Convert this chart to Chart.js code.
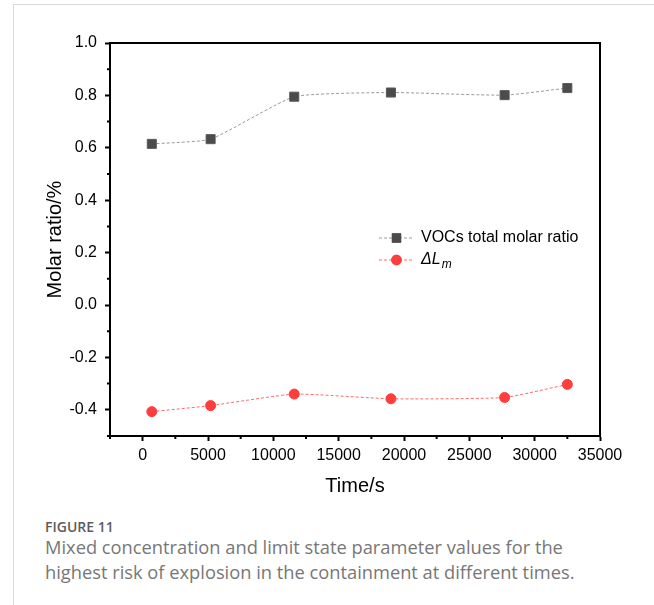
<!DOCTYPE html>
<html>
<head>
<meta charset="utf-8">
<script src="https://cdn.jsdelivr.net/npm/chart.js@4"></script>
<style>
  body { margin: 0; background: #fff; }
  #page { position: relative; width: 654px; height: 605px; overflow: hidden; background: #fff; }
  #frame { position: absolute; left: 13px; top: 4px; width: 700px; height: 700px;
           border-left: 1px solid #d9d9d9; border-top: 1px solid #d9d9d9; }
  #chartBox { position: absolute; left: 0; top: 0; width: 654px; height: 500px; }
  .fig { position: absolute; left: 45px; font-family: "Open Sans", sans-serif; white-space: nowrap; }
  #figNo { top: 517px; font-size: 14px; font-weight: 600; color: #5c5c5c; }
  #figText { top: 534px; font-size: 18.3px; line-height: 25px; color: #777; }
</style>
</head>
<body>
<div id="page">
  <div id="frame"></div>
  <div id="chartBox"><canvas id="myChart" width="654" height="500"></canvas></div>
  <div class="fig" id="figNo">FIGURE 11</div>
  <div class="fig" id="figText">Mixed concentration and limit state parameter values for the<br>highest risk of explosion in the containment at different times.</div>
</div>
<script>
// data
var times = [700, 5200, 11600, 19000, 27700, 32500];
var vocsRatio = [0.615, 0.633, 0.795, 0.811, 0.801, 0.828];
var deltaLm = [-0.407, -0.384, -0.340, -0.358, -0.353, -0.303];

var xTicks = [0, 5000, 10000, 15000, 20000, 25000, 30000, 35000];
var xMinor = [-2500, 2500, 7500, 12500, 17500, 22500, 27500, 32500];
var yTicks = [-0.4, -0.2, 0.0, 0.2, 0.4, 0.6, 0.8, 1.0];
var yMinor = [-0.5, -0.3, -0.1, 0.1, 0.3, 0.5, 0.7, 0.9];

var fontFam = '"Liberation Sans", Arial, sans-serif';

// box round the plot + minor ticks
var framePlugin = {
    id: 'frame',
    afterDraw: function(chart) {
        var ctx = chart.ctx, a = chart.chartArea;
        var xs = chart.scales.x, ys = chart.scales.y;
        ctx.save();
        ctx.strokeStyle = '#000';
        ctx.lineWidth = 2;
        ctx.beginPath();
        ctx.moveTo(a.left, a.top);
        ctx.lineTo(a.right, a.top);
        ctx.lineTo(a.right, a.bottom);
        ctx.stroke();
        ctx.beginPath();
        xMinor.forEach(function(v) {
            var px = xs.getPixelForValue(v);
            ctx.moveTo(px, a.bottom);
            ctx.lineTo(px, a.bottom + 3);
        });
        yMinor.forEach(function(v) {
            var py = ys.getPixelForValue(v);
            ctx.moveTo(a.left, py);
            ctx.lineTo(a.left - 3, py);
        });
        ctx.stroke();
        ctx.restore();
    }
};

// legend in Origin style: dashed line with the marker in the middle
var legendPlugin = {
    id: 'originLegend',
    afterDraw: function(chart) {
        var ctx = chart.ctx;
        var x0 = 379, x1 = 414, tx = 421;
        var rows = [238, 260];
        ctx.save();
        chart.data.datasets.forEach(function(ds, i) {
            var y = rows[i];
            ctx.strokeStyle = ds.borderColor;
            ctx.lineWidth = 1;
            ctx.setLineDash([3, 2]);
            ctx.beginPath();
            ctx.moveTo(x0, y);
            ctx.lineTo(x1, y);
            ctx.stroke();
            ctx.setLineDash([]);
            Chart.helpers.drawPoint(ctx, {
                pointStyle: ds.pointStyle, radius: ds.pointRadius, borderWidth: 1
            }, (x0 + x1) / 2, y);
            ctx.fillStyle = ds.pointBackgroundColor;
            ctx.strokeStyle = ds.pointBorderColor;
            ctx.fill();
        });
        ctx.fillStyle = '#000';
        ctx.textBaseline = 'middle';
        ctx.font = '16px ' + fontFam;
        ctx.fillText('VOCs total molar ratio', tx, rows[0]);
        ctx.font = 'italic 16px ' + fontFam;
        ctx.fillText('\u0394L', tx, rows[1]);
        var w = ctx.measureText('\u0394L').width;
        ctx.font = 'italic 12px ' + fontFam;
        ctx.fillText('m', tx + w + 1, rows[1] + 5);
        ctx.restore();
    }
};

document.addEventListener('DOMContentLoaded', function() {
    var ctx = document.getElementById('myChart').getContext('2d');
    var myChart = new Chart(ctx, {
        type: 'line',
        data: {
            datasets: [{
                label: 'VOCs total molar ratio',
                data: times.map(function(t, i) { return { x: t, y: vocsRatio[i] }; }),
                borderColor: 'rgba(120, 120, 120, 0.75)',
                borderWidth: 1,
                borderDash: [3, 2],
                pointStyle: 'rect',
                pointRadius: 6.4,
                pointBackgroundColor: '#4b4b4b',
                pointBorderColor: '#5a5a5a',
                pointBorderWidth: 1,
                tension: 0.15
            }, {
                label: '\u0394Lm',
                data: times.map(function(t, i) { return { x: t, y: deltaLm[i] }; }),
                borderColor: 'rgba(255, 70, 70, 0.8)',
                borderWidth: 1,
                borderDash: [3, 2],
                pointStyle: 'circle',
                pointRadius: 5,
                pointBackgroundColor: '#ff3d3d',
                pointBorderColor: '#ff3d3d',
                pointBorderWidth: 1,
                tension: 0.15
            }]
        },
        options: {
            responsive: false,
            animation: false,
            layout: { padding: { left: 0, top: 43, right: 54, bottom: 0 } },
            plugins: {
                legend: { display: false },
                tooltip: { enabled: false }
            },
            scales: {
                x: {
                    type: 'linear',
                    min: -2500,
                    max: 35000,
                    afterBuildTicks: function(scale) {
                        scale.ticks = xTicks.map(function(v) { return { value: v }; });
                    },
                    afterFit: function(scale) { scale.height = 64; },
                    grid: { display: true, drawOnChartArea: false, drawTicks: true,
                            tickLength: 5, tickWidth: 2, tickColor: '#000' },
                    border: { display: true, width: 2, color: '#000' },
                    ticks: { color: '#000', padding: 5, maxRotation: 0, autoSkip: false,
                             font: { family: fontFam, size: 16 },
                             callback: function(v) { return String(v); } },
                    title: { display: true, text: 'Time/s', color: '#000',
                             font: { family: fontFam, size: 20 },
                             padding: { top: 0, bottom: 2 } }
                },
                y: {
                    min: -0.5,
                    max: 1.0,
                    afterBuildTicks: function(scale) {
                        scale.ticks = yTicks.map(function(v) { return { value: v }; });
                    },
                    afterFit: function(scale) { scale.width = 110; },
                    grid: { display: true, drawOnChartArea: false, drawTicks: true,
                            tickLength: 5, tickWidth: 2, tickColor: '#000' },
                    border: { display: true, width: 2, color: '#000' },
                    ticks: { color: '#000', padding: 8, autoSkip: false,
                             font: { family: fontFam, size: 16 },
                             callback: function(v) { return v.toFixed(1); } },
                    title: { display: true, text: 'Molar ratio/%', color: '#000',
                             font: { family: fontFam, size: 20 },
                             padding: { top: 43, bottom: 0 } }
                }
            }
        },
        plugins: [framePlugin, legendPlugin]
    });
});
</script>
</body>
</html>
